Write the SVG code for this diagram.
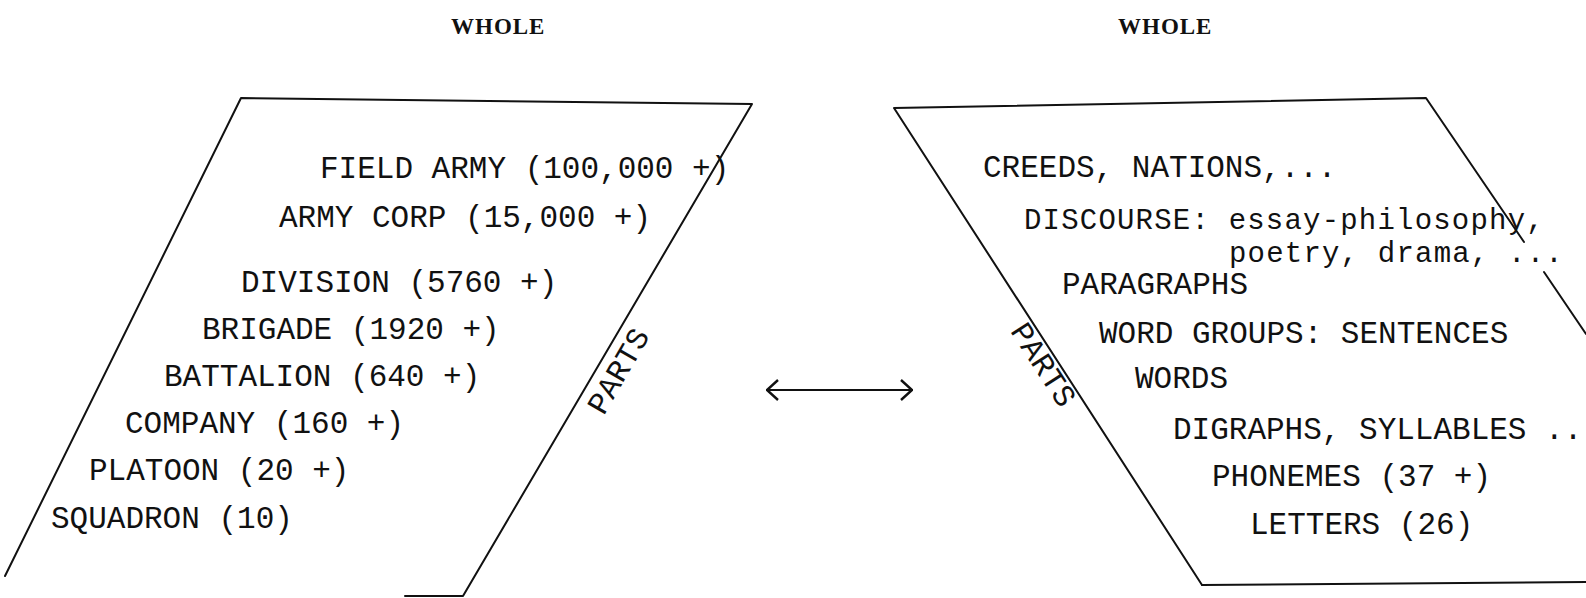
<svg xmlns="http://www.w3.org/2000/svg" width="1586" height="598" viewBox="0 0 1586 598">
<style>
.t{font-family:"Liberation Mono","DejaVu Sans Mono",monospace;font-size:31px;fill:#111}
.d{font-size:29px;letter-spacing:1.2px}
.w{font-family:"Liberation Serif","DejaVu Serif",serif;font-size:23px;font-weight:bold;fill:#111;letter-spacing:1px}
.e{fill:none;stroke:#111;stroke-width:2;stroke-linecap:round;stroke-linejoin:round}
</style>
<defs>
<marker id="ah" viewBox="0 0 14 22" refX="13" refY="11" markerWidth="14" markerHeight="22" markerUnits="userSpaceOnUse" orient="auto-start-reverse">
<path d="M2,1 L13,11 L2,21" fill="none" stroke="#111" stroke-width="2.4"/>
</marker>
</defs>
<text class="w" x="451" y="34">WHOLE</text>
<text class="w" x="1118" y="34">WHOLE</text>
<g id="military">
<path class="e" d="M5,576 L241,98 L752,104 L463,596 L405,596"/>
<text class="t" x="320" y="178">FIELD ARMY (100,000 +)</text>
<text class="t" x="279" y="227">ARMY CORP (15,000 +)</text>
<text class="t" x="241" y="292">DIVISION (5760 +)</text>
<text class="t" x="202" y="339">BRIGADE (1920 +)</text>
<text class="t" x="164" y="386">BATTALION (640 +)</text>
<text class="t" x="125" y="433">COMPANY (160 +)</text>
<text class="t" x="89" y="480">PLATOON (20 +)</text>
<text class="t" x="51" y="528">SQUADRON (10)</text>
<text class="t" text-anchor="middle" transform="translate(627,376) rotate(-60)">PARTS</text>
</g>
<g id="language">
<path class="e" d="M1202,585 L894,108 L1426,98 L1524,242"/>
<path class="e" d="M1544,272 L1586,334"/>
<path class="e" d="M1202,585 L1586,582"/>
<text class="t" x="983" y="177">CREEDS, NATIONS,...</text>
<text class="t d" x="1024" y="229">DISCOURSE: essay-philosophy,</text>
<text class="t d" x="1229" y="262">poetry, drama, ...</text>
<text class="t" x="1062" y="294">PARAGRAPHS</text>
<text class="t" x="1099" y="343">WORD GROUPS: SENTENCES</text>
<text class="t" x="1135" y="388">WORDS</text>
<text class="t" x="1173" y="439">DIGRAPHS, SYLLABLES ..</text>
<text class="t" x="1212" y="486">PHONEMES (37 +)</text>
<text class="t" x="1250" y="534">LETTERS (26)</text>
<text class="t" text-anchor="middle" transform="translate(1035,370) rotate(57)">PARTS</text>
</g>
<g id="connectors">
<line class="e" x1="767" y1="390" x2="912" y2="390" marker-start="url(#ah)" marker-end="url(#ah)"/>
</g>
</svg>
